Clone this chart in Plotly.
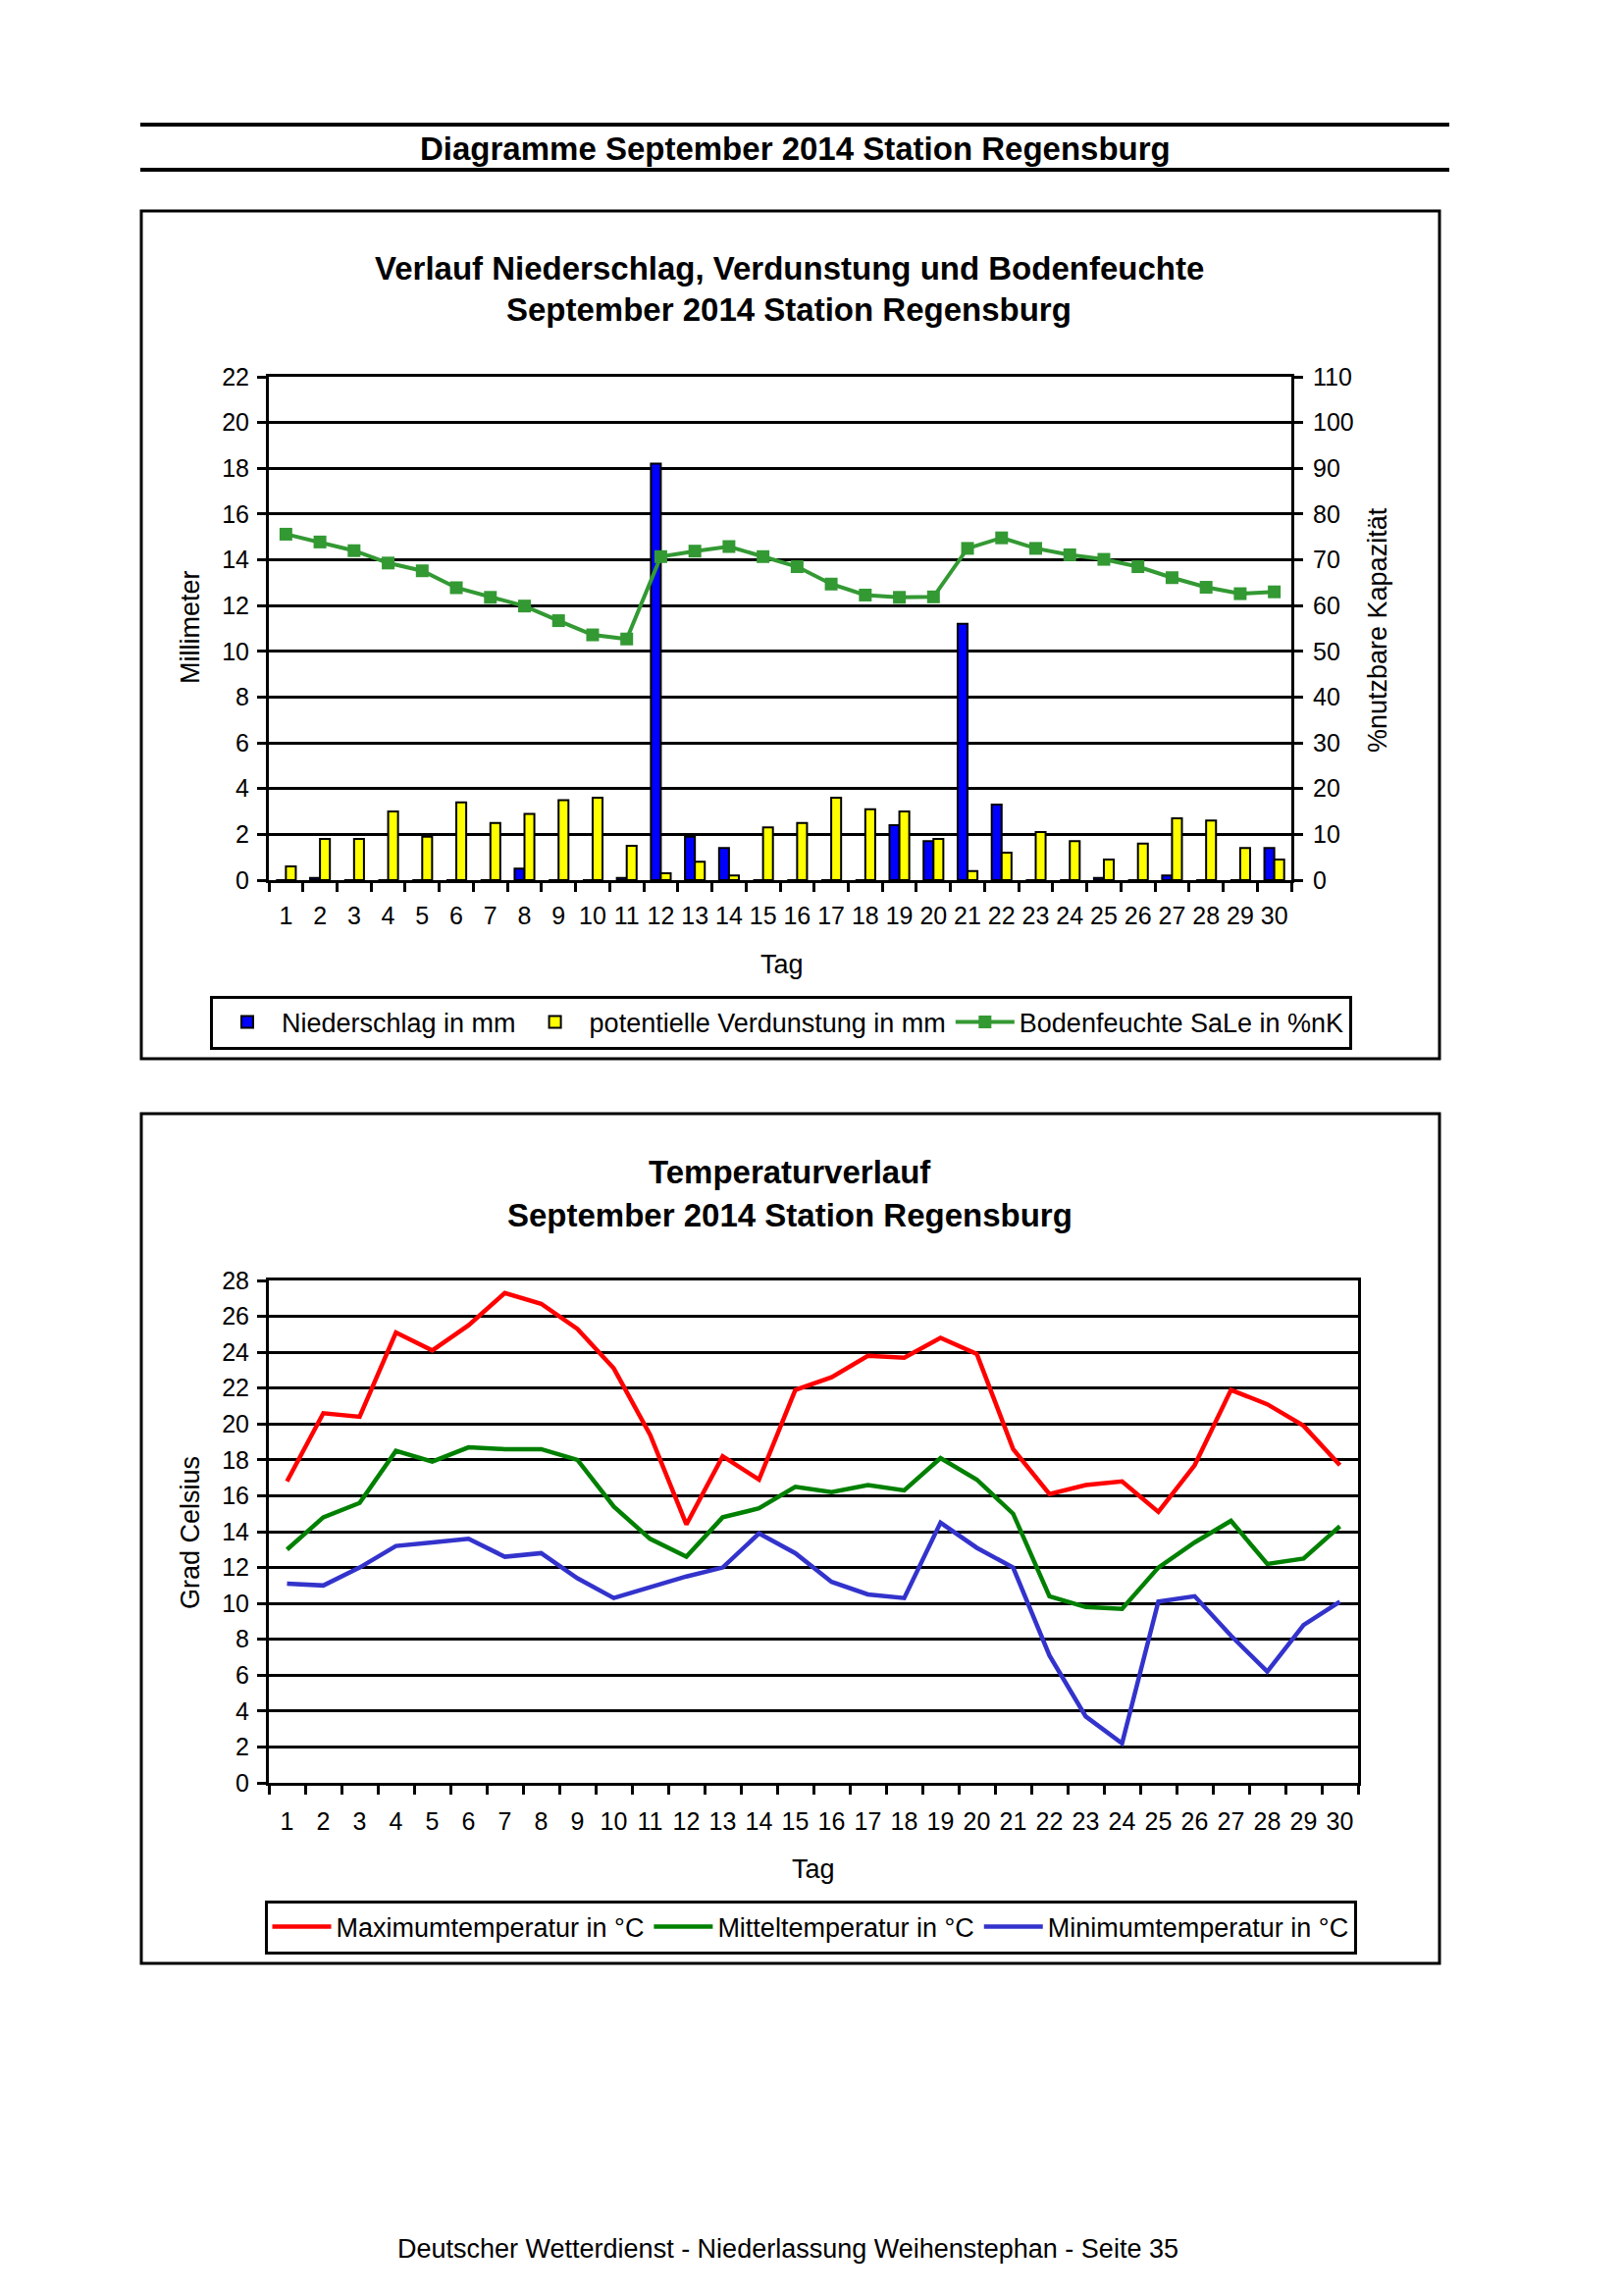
import plotly.graph_objects as go

# ---------------- data ----------------
tage = [str(d) for d in range(1, 31)]
niederschlag = [0, 0.1, 0, 0, 0, 0, 0, 0.5, 0, 0, 0.1, 18.2, 1.9, 1.4, 0,
                0, 0, 0, 2.4, 1.7, 11.2, 3.3, 0, 0, 0.1, 0, 0.2, 0, 0, 1.4]
verdunstung = [0.6, 1.8, 1.8, 3.0, 1.9, 3.4, 2.5, 2.9, 3.5, 3.6, 1.5, 0.3, 0.8, 0.2, 2.3,
               2.5, 3.6, 3.1, 3.0, 1.8, 0.4, 1.2, 2.1, 1.7, 0.9, 1.6, 2.7, 2.6, 1.4, 0.9]
bodenfeuchte = [75.6, 73.9, 72.0, 69.3, 67.6, 63.9, 61.8, 59.9, 56.7, 53.6, 52.7, 70.7, 71.9, 72.9, 70.7,
                68.5, 64.7, 62.3, 61.8, 61.9, 72.5, 74.8, 72.5, 71.1, 70.1, 68.5, 66.1, 64.0, 62.6, 63.0]
tmax = [16.8, 20.6, 20.4, 25.1, 24.1, 25.5, 27.3, 26.7, 25.3, 23.1, 19.4, 14.4, 18.2, 16.9, 21.9,
        22.6, 23.8, 23.7, 24.8, 23.9, 18.6, 16.1, 16.6, 16.8, 15.1, 17.7, 21.9, 21.1, 19.9, 17.7]
tmit = [13.0, 14.8, 15.6, 18.5, 17.9, 18.7, 18.6, 18.6, 18.0, 15.4, 13.6, 12.6, 14.8, 15.3, 16.5,
        16.2, 16.6, 16.3, 18.1, 16.9, 15.0, 10.4, 9.8, 9.7, 12.0, 13.4, 14.6, 12.2, 12.5, 14.3]
tmin = [11.1, 11.0, 12.0, 13.2, 13.4, 13.6, 12.6, 12.8, 11.4, 10.3, 10.9, 11.5, 12.0, 13.9, 12.8,
        11.2, 10.5, 10.3, 14.5, 13.1, 12.0, 7.1, 3.7, 2.2, 10.1, 10.4, 8.2, 6.2, 8.8, 10.1]

mm_ticks = list(range(0, 23, 2))
pct_ticks = list(range(0, 111, 10))
temp_ticks = list(range(0, 29, 2))

# ---------------- page geometry ----------------
W, H = 1653, 2340
OFF = 8  # page body margin offset
FONT = "Liberation Sans, Arial, sans-serif"


def px(x):
    return (x - OFF) / W


def py(y):
    return 1 - (y - OFF) / H


fig = go.Figure()

fig.add_trace(go.Bar(x=tage, y=niederschlag, name="Niederschlag in mm",
                     marker=dict(color="#0000FF", line=dict(color="black", width=2)),
                     xaxis="x", yaxis="y", legend="legend"))
fig.add_trace(go.Bar(x=tage, y=verdunstung, name="potentielle Verdunstung in mm",
                     marker=dict(color="#FFFF00", line=dict(color="black", width=2)),
                     xaxis="x", yaxis="y", legend="legend"))
fig.add_trace(go.Scatter(x=tage, y=bodenfeuchte, name="Bodenfeuchte SaLe in %nK",
                         mode="lines+markers",
                         line=dict(color="#339933", width=4),
                         marker=dict(symbol="square", size=13, color="#339933"),
                         xaxis="x", yaxis="y2", legend="legend"))

fig.add_trace(go.Scatter(x=tage, y=tmax, name="Maximumtemperatur in °C", mode="lines",
                         line=dict(color="#FF0000", width=4.5), xaxis="x2", yaxis="y3", legend="legend2"))
fig.add_trace(go.Scatter(x=tage, y=tmit, name="Mitteltemperatur in °C", mode="lines",
                         line=dict(color="#008000", width=4.5), xaxis="x2", yaxis="y3", legend="legend2"))
fig.add_trace(go.Scatter(x=tage, y=tmin, name="Minimumtemperatur in °C", mode="lines",
                         line=dict(color="#3333CC", width=4.5), xaxis="x2", yaxis="y3", legend="legend2"))

tickfont = dict(family=FONT, size=25, color="black")
axis_common = dict(showline=True, linecolor="black", linewidth=3, ticks="outside",
                   ticklen=9, tickwidth=3, tickcolor="black", tickfont=tickfont,
                   zeroline=False, automargin=False, tickangle=0)

fig.update_layout(
    template="none",
    width=W, height=H, autosize=False,
    margin=dict(l=0, r=0, t=0, b=0, pad=0),
    paper_bgcolor="white", plot_bgcolor="white",
    font=dict(family=FONT, color="black", size=27),
    barmode="group", bargap=0.42, bargroupgap=0,
    xaxis=dict(domain=[px(274), px(1316)], anchor="y", type="category",
               range=[-0.5, 29.5], tickson="boundaries", mirror=True, showgrid=False,
               ticklabelstandoff=12, **axis_common),
    yaxis=dict(domain=[py(897), py(384)], anchor="x", range=[0, 22],
               tickvals=mm_ticks, showgrid=True, gridcolor="black", gridwidth=2.5,
               ticklabelstandoff=3, **axis_common),
    yaxis2=dict(overlaying="y", side="right", anchor="x", range=[0, 110],
                tickvals=pct_ticks, showgrid=False, ticklabelstandoff=5, **axis_common),
    xaxis2=dict(domain=[px(274), px(1384)], anchor="y3", type="category",
                range=[-0.5, 29.5], tickson="boundaries", mirror=True, showgrid=False,
                ticklabelstandoff=15, **axis_common),
    yaxis3=dict(domain=[py(1817), py(1305)], anchor="x2", range=[0, 28],
                tickvals=temp_ticks, showgrid=True, gridcolor="black", gridwidth=2.5,
                mirror=True, ticklabelstandoff=3, **axis_common),
    legend=dict(orientation="h", x=px(796), y=py(1042), xanchor="center", yanchor="middle",
                bordercolor="black", borderwidth=3, bgcolor="white",
                font=dict(family=FONT, size=27, color="black"),
                itemwidth=60, tracegroupgap=0, traceorder="normal"),
    legend2=dict(orientation="h", x=px(826), y=py(1964), xanchor="center", yanchor="middle",
                 bordercolor="black", borderwidth=3, bgcolor="white",
                 font=dict(family=FONT, size=27, color="black"),
                 itemwidth=60, tracegroupgap=0, traceorder="normal"),
    showlegend=True,
)

# ---------------- page frame shapes ----------------
shapes = [
    dict(type="line", xref="paper", yref="paper", x0=px(143), x1=px(1477), y0=py(127), y1=py(127),
         line=dict(color="black", width=4)),
    dict(type="line", xref="paper", yref="paper", x0=px(143), x1=px(1477), y0=py(173), y1=py(173),
         line=dict(color="black", width=4)),
    dict(type="rect", xref="paper", yref="paper", x0=px(144), x1=px(1467), y0=py(215), y1=py(1079),
         line=dict(color="black", width=3)),
    dict(type="rect", xref="paper", yref="paper", x0=px(144), x1=px(1467), y0=py(1135), y1=py(2001),
         line=dict(color="black", width=3)),
]
fig.update_layout(shapes=shapes)


def ann(text, x, y, size=27, bold=False, angle=0):
    t = f"<b>{text}</b>" if bold else text
    fig.add_annotation(text=t, x=px(x), y=py(y), xref="paper", yref="paper",
                       xanchor="center", yanchor="middle", showarrow=False,
                       textangle=angle, font=dict(family=FONT, size=size, color="black"))


ann("Diagramme September 2014 Station Regensburg", 810, 151, size=33, bold=True)
ann("Verlauf Niederschlag, Verdunstung und Bodenfeuchte", 804, 273, size=33, bold=True)
ann("September 2014 Station Regensburg", 804, 316, size=33, bold=True)
ann("Millimeter", 194, 639, angle=-90)
ann("%nutzbare Kapazität", 1404, 642, angle=-90)
ann("Tag", 797, 983)
ann("Temperaturverlauf", 805, 1194, size=33, bold=True)
ann("September 2014 Station Regensburg", 805, 1238, size=33, bold=True)
ann("Grad Celsius", 194, 1562, angle=-90)
ann("Tag", 829, 1905)
ann("Deutscher Wetterdienst - Niederlassung Weihenstephan - Seite 35", 803, 2292)

fig.write_html("out.html")
